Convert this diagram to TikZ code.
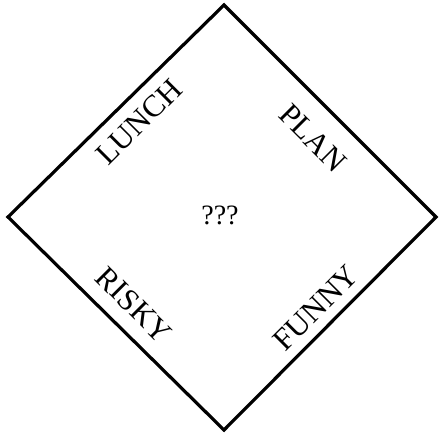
\documentclass[tikz,border=0pt]{standalone}
\usepackage{fontspec}
\setmainfont{Liberation Serif}
\begin{document}
\begin{tikzpicture}[x=1pt,y=1pt,
  lbl/.style={inner sep=0pt,font=\fontsize{31}{34}\selectfont},
  qlbl/.style={inner sep=0pt,font=\fontsize{28}{32}\selectfont},
  edge/.style={line width=3.2pt,line join=miter}]
\useasboundingbox (0,0) rectangle (440,440);
\coordinate (T) at (224,435);
\coordinate (R) at (436,223);
\coordinate (B) at (224,10);
\coordinate (L) at (8,223);
\draw[edge] (T) -- (R) -- (B) -- (L) -- cycle;
\node[lbl,rotate=45] (lunch) at (139,318) {LUNCH};
\node[lbl,rotate=-45] (plan) at (313,302) {PLAN};
\node[lbl,rotate=-45] (risky) at (134,135) {RISKY};
\node[lbl,rotate=45] (funny) at (316,132) {FUNNY};
\node[qlbl] (q) at (220,225) {???};
\end{tikzpicture}
\end{document}
